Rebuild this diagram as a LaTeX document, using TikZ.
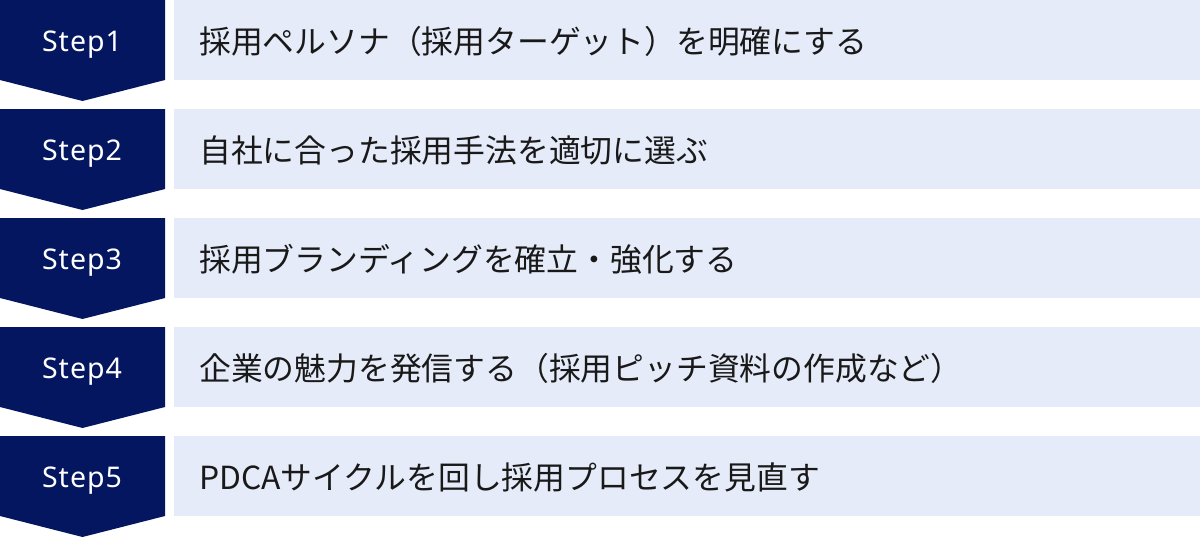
\documentclass[tikz,border=0pt]{standalone}
\usepackage{fontspec}
\newfontfamily\jpfont{Noto Sans CJK JP}
\newfontfamily\latfont[LetterSpace=3.5]{Noto Sans}
\definecolor{navy}{HTML}{04165F}
\definecolor{pale}{HTML}{E5EBF8}
\tikzset{
  chev/.style={fill=navy, draw=none},
  bar/.style={fill=pale, draw=none, rectangle, anchor=north west, inner sep=0pt, minimum width=1026pt, minimum height=80pt},
  steplabel/.style={text=white, font=\latfont\fontsize{28.5pt}{32pt}\selectfont, inner sep=0pt, anchor=base},
  bartext/.style={text=black!90, font=\jpfont\fontsize{31.8pt}{34pt}\selectfont, inner sep=0pt, anchor=west},
}
\begin{document}
\begin{tikzpicture}[x=1pt, y=-1pt]
\useasboundingbox (0,0) rectangle (1200,538);
\foreach \i/\txt in {1/{採用ペルソナ（採用ターゲット）を明確にする},
                     2/{自社に合った採用手法を適切に選ぶ},
                     3/{採用ブランディングを確立・強化する},
                     4/{企業の魅力を発信する（採用ピッチ資料の作成など）},
                     5/{PDCAサイクルを回し採用プロセスを見直す}} {
  \pgfmathsetmacro{\t}{109*(\i-1)}
  \fill[chev] (0,\t) -- (165,\t) -- (165,\t+80) -- (82.5,\t+101) -- (0,\t+80) -- cycle;
  \node[steplabel] (step\i) at (82,\t+51.5) {Step\i};
  \node[bar] (bar\i) at (174,\t) {};
  \node[bartext] (text\i) at (199,\t+41) {\txt};
}
\end{tikzpicture}
\end{document}
